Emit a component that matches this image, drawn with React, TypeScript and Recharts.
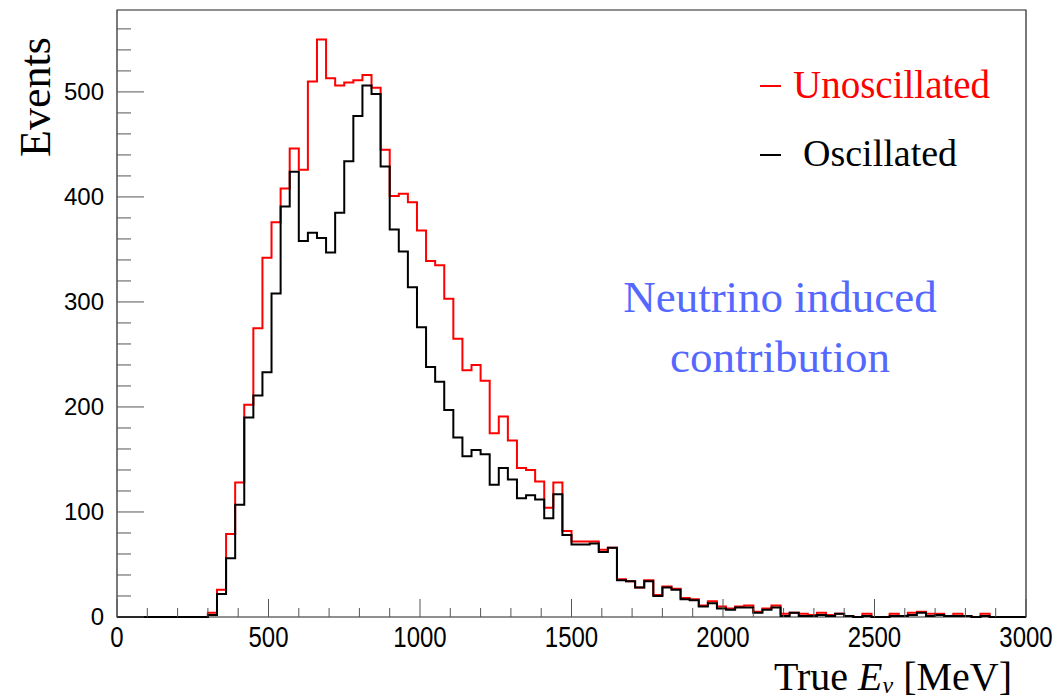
import { LineChart, Line, XAxis, YAxis, ReferenceArea } from 'recharts'

// 100 bins of 30 MeV from 0 to 3000 MeV
const BIN_WIDTH = 30

const unoscillated = [
  0, 0, 0, 0, 0, 0, 0, 0, 0, 0,
  4, 26, 79, 128, 202, 275, 342, 376, 408, 446,
  426, 510, 550, 513, 506, 509, 511, 516, 504, 445,
  401, 403, 395, 368, 339, 335, 303, 265, 235, 240,
  225, 175, 191, 168, 142, 140, 129, 104, 128, 82,
  72, 72, 72, 64, 66, 36, 34, 28, 35, 21,
  29, 27, 18, 17, 11, 15, 10, 8, 10, 11,
  5, 8, 11, 3, 4, 3, 2, 4, 2, 3,
  1, 0, 3, 0, 0, 3, 1, 4, 5, 3,
  3, 1, 3, 1, 0, 3, 0, 0, 0, 0,
]

const oscillated = [
  0, 0, 0, 0, 0, 0, 0, 0, 0, 0,
  2, 22, 56, 107, 190, 211, 233, 308, 391, 424,
  358, 366, 361, 347, 385, 434, 477, 506, 498, 429,
  369, 348, 314, 276, 238, 224, 197, 171, 153, 159,
  155, 126, 142, 131, 113, 116, 112, 94, 117, 78,
  69, 69, 70, 62, 66, 35, 34, 28, 34, 20,
  28, 26, 17, 16, 10, 13, 8, 7, 9, 9,
  4, 7, 9, 1, 4, 1, 1, 2, 1, 3,
  1, 0, 1, 0, 0, 1, 1, 2, 4, 1,
  2, 1, 1, 1, 0, 1, 0, 0, 0, 0,
]

const xMajor = [0, 500, 1000, 1500, 2000, 2500, 3000]
const yMajor = [0, 100, 200, 300, 400, 500]
const Y_MAX = 578

// one point per bin edge, the last edge repeats the last bin
const data = Array.from({ length: unoscillated.length + 1 }, (_, i) => {
  const b = Math.min(i, unoscillated.length - 1)
  return { energy: i * BIN_WIDTH, unosc: unoscillated[b], osc: oscillated[b] }
})

const xTicks = Array.from({ length: 31 }, (_, i) => i * 100)
const yTicks = Array.from({ length: 29 }, (_, i) => i * 20)

const TICK_COLOR = '#555'
const LABEL_FONT = '"Liberation Sans", Arial, sans-serif'
const TITLE_FONT = '"Liberation Serif", "DejaVu Serif", serif'
const X_MARGIN = 10
const Y_MARGIN = 13

// ticks point inwards, ROOT style
function XTick({ x, y, payload }: any) {
  const v = Number(payload.value)
  const major = xMajor.some((m) => Math.abs(m - v) < 1e-6)
  const axisY = y - X_MARGIN
  return (
    <g>
      <line x1={x} x2={x} y1={axisY} y2={axisY - (major ? 18 : 9)} stroke={TICK_COLOR} />
      {major && (
        <text
          transform={`translate(${x},${y + 20}) scale(0.8,1)`}
          textAnchor="middle"
          fontFamily={LABEL_FONT}
          fontSize={30}
          fill="#000"
        >
          {String(Math.round(v))}
        </text>
      )}
    </g>
  )
}

function YTick({ x, y, payload }: any) {
  const v = Number(payload.value)
  const major = yMajor.some((m) => Math.abs(m - v) < 1e-6)
  const axisX = x + Y_MARGIN
  return (
    <g>
      <line x1={axisX} x2={axisX + (major ? 27 : 14)} y1={y} y2={y} stroke={TICK_COLOR} />
      {major && (
        <text x={x} y={y + 8} textAnchor="end" fontFamily={LABEL_FONT} fontSize={24} fill="#000">
          {String(Math.round(v))}
        </text>
      )}
    </g>
  )
}

export default function App() {
  return (
    <div style={{ position: 'absolute', left: 0, top: 0, width: 1060, height: 699, background: '#fff' }}>
      <LineChart width={1060} height={699} data={data} margin={{ top: 10, right: 34, left: 0, bottom: 0 }}>
        <XAxis
          type="number"
          dataKey="energy"
          domain={[0, 3000]}
          ticks={xTicks}
          interval={0}
          height={82}
          axisLine={false}
          tickLine={false}
          tickSize={0}
          tickMargin={X_MARGIN}
          tick={<XTick />}
        />
        <YAxis
          type="number"
          domain={[0, Y_MAX]}
          ticks={yTicks}
          interval={0}
          width={117}
          axisLine={false}
          tickLine={false}
          tickSize={0}
          tickMargin={Y_MARGIN}
          tick={<YTick />}
        />
        <ReferenceArea x1={0} x2={3000} y1={0} y2={Y_MAX} fill="none" fillOpacity={0} stroke="#222" strokeWidth={1.2} />
        <Line
          type="stepAfter"
          dataKey="unosc"
          stroke="#ff0000"
          strokeWidth={2}
          dot={false}
          isAnimationActive={false}
        />
        <Line
          type="stepAfter"
          dataKey="osc"
          stroke="#000000"
          strokeWidth={2}
          dot={false}
          isAnimationActive={false}
        />
      </LineChart>
      <svg
        width={1060}
        height={699}
        style={{ position: 'absolute', left: 0, top: 0, pointerEvents: 'none' }}
        fontFamily={TITLE_FONT}
      >
        <text transform="translate(50,97) rotate(-90)" textAnchor="middle" fontSize={44} fill="#000">
          Events
        </text>
        <text x={1012} y={690} textAnchor="end" fontSize={40} fill="#000">
          True <tspan fontStyle="italic">E</tspan>
          <tspan fontSize={24} fontStyle="italic" dy={3}>ν</tspan>
          <tspan dy={-3}> [MeV]</tspan>
        </text>

        <line x1={760} x2={781} y1={86} y2={86} stroke="#ff0000" strokeWidth={2} />
        <text x={793} y={98} fontSize={39} fill="#ff0000">Unoscillated</text>
        <line x1={760} x2={781} y1={155} y2={155} stroke="#000" strokeWidth={2} />
        <text x={803} y={166} fontSize={38} fill="#000">Oscillated</text>

        <text x={780} y={312} textAnchor="middle" fontSize={45} fill="#5468ff">Neutrino induced</text>
        <text x={780} y={372} textAnchor="middle" fontSize={45} fill="#5468ff">contribution</text>
      </svg>
    </div>
  )
}
